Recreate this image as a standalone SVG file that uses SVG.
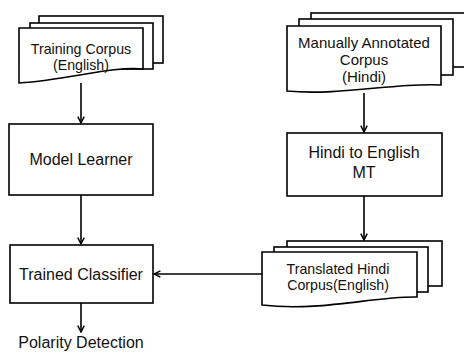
<svg xmlns="http://www.w3.org/2000/svg" width="464" height="353" viewBox="0 0 464 353">
<defs>
<style>
.s{fill:#fff;stroke:#000;stroke-width:1.6}
.t{font-family:"Liberation Sans",Arial,sans-serif;font-size:16px;fill:#111;text-anchor:middle}
.d{font-size:14.2px}
.m{font-size:15px}
.c{fill:none;stroke:#000;stroke-width:1.6}
</style>
<marker id="a" viewBox="0 0 10 10" refX="9" refY="5" markerWidth="8" markerHeight="8" markerUnits="userSpaceOnUse" orient="auto">
<path d="M1,1 L9,5 L1,9" fill="none" stroke="#000" stroke-width="1.8"/>
</marker>
</defs>
<rect width="464" height="353" fill="#fff"/>
<g id="training-corpus">
<rect class="s" x="39" y="16" width="124" height="47"/>
<rect class="s" x="30" y="23" width="123" height="46"/>
<path class="s" d="M19,28 H143 V69 C110,66 70,80 19,83 Z"/>
<text class="t d" x="81" y="54">Training Corpus</text>
<text class="t d" x="81" y="70">(English)</text>
</g>
<g id="model-learner">
<rect class="s" x="9" y="124" width="144" height="71"/>
<text class="t" x="81" y="165">Model Learner</text>
</g>
<g id="trained-classifier">
<rect class="s" x="10" y="245" width="143" height="58"/>
<text class="t" x="81" y="280">Trained Classifier</text>
</g>
<g id="polarity-detection">
<text class="t" x="81" y="348">Polarity Detection</text>
</g>
<g id="manual-corpus">
<rect class="s" x="311" y="13" width="160" height="54"/>
<rect class="s" x="299" y="19" width="154" height="56"/>
<path class="s" d="M287,26 H441 V85 C400,82 340,96 287,91 Z"/>
<text class="t m" x="364" y="48">Manually Annotated</text>
<text class="t m" x="364" y="65">Corpus</text>
<text class="t m" x="364" y="82">(Hindi)</text>
</g>
<g id="hindi-mt">
<rect class="s" x="287" y="133" width="155" height="63"/>
<text class="t" x="364" y="158">Hindi to English</text>
<text class="t" x="364" y="178">MT</text>
</g>
<g id="translated-corpus">
<rect class="s" x="287" y="241" width="155" height="45"/>
<rect class="s" x="274" y="247" width="154" height="45"/>
<path class="s" d="M262,252 H417 V297 C375,296 320,312 262,305 Z"/>
<text class="t d" x="338" y="274">Translated Hindi</text>
<text class="t d" x="338" y="290">Corpus(English)</text>
</g>
<g id="connectors">
<line class="c" x1="81" y1="83" x2="81" y2="123" marker-end="url(#a)"/>
<line class="c" x1="81" y1="195" x2="81" y2="244" marker-end="url(#a)"/>
<line class="c" x1="81" y1="303" x2="81" y2="332" marker-end="url(#a)"/>
<line class="c" x1="364" y1="93" x2="364" y2="132" marker-end="url(#a)"/>
<line class="c" x1="364" y1="196" x2="364" y2="240" marker-end="url(#a)"/>
<line class="c" x1="262" y1="274" x2="154" y2="274" marker-end="url(#a)"/>
</g>
</svg>
